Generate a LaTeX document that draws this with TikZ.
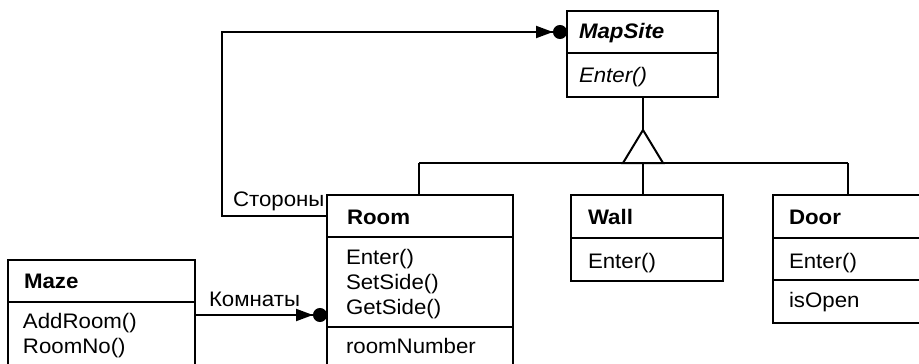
\documentclass[tikz,border=0pt]{standalone}
\usepackage{fontspec}
\setmainfont{Liberation Sans}[FakeStretch=1.06]
\usetikzlibrary{arrows.meta}
\begin{document}
\begin{tikzpicture}[x=1pt,y=-1pt,line width=2pt,line join=miter,
  box/.style={draw,line width=2pt,anchor=north west,inner sep=0pt,outer sep=0pt},
  txt/.style={anchor=base west,inner sep=0pt,font=\fontsize{21}{25}\selectfont},
  assoc/.style={line width=2pt,-{Triangle[length=17pt,width=12pt] Circle[length=14pt]}},
  conn/.style={line width=2pt}]
\clip (0,0) rectangle (919,364);
\useasboundingbox (0,0) rectangle (919,364);

% MapSite
\node[box,minimum width=151pt,minimum height=86pt] (mapsite) at (567,11) {};
\draw (567,53) -- (718,53);
\node[txt] (mapsiteT) at (578,38) {\bfseries\itshape MapSite};
\node[txt] (mapsiteE) at (578,82) {\itshape Enter()};

% Room
\node[box,minimum width=186pt,minimum height=190pt] (room) at (327,195) {};
\draw (327,237) -- (513,237);
\draw (327,327) -- (513,327);
\node[txt] (roomT) at (346,224) {\bfseries Room};
\node[txt] (roomE) at (345,264) {Enter()};
\node[txt] (roomS) at (345,289) {SetSide()};
\node[txt] (roomG) at (345,314) {GetSide()};
\node[txt] (roomN) at (345,353) {roomNumber};

% Wall
\node[box,minimum width=152pt,minimum height=86pt] (wall) at (571,195) {};
\draw (571,238) -- (723,238);
\node[txt] (wallT) at (587,224) {\bfseries Wall};
\node[txt] (wallE) at (587,268) {Enter()};

% Door
\node[box,minimum width=160pt,minimum height=128pt] (door) at (773,195) {};
\draw (773,238) -- (933,238);
\draw (773,280) -- (933,280);
\node[txt] (doorT) at (788,224) {\bfseries Door};
\node[txt] (doorE) at (788,268) {Enter()};
\node[txt] (doorO) at (788,307) {isOpen};

% Maze
\node[box,minimum width=187pt,minimum height=130pt] (maze) at (8,260) {};
\draw (8,302) -- (195,302);
\node[txt] (mazeT) at (23,288) {\bfseries Maze};
\node[txt] (mazeA) at (22,328) {AddRoom()};
\node[txt] (mazeR) at (22,353) {RoomNo()};

% Inheritance
\coordinate (apex) at (643,130);
\coordinate (bl) at (623,163);
\coordinate (br) at (663,163);
\draw[conn] (mapsite.south -| apex) -- (apex);
\draw[conn] (apex) -- (bl) -- (br) -- cycle;
\coordinate (hl) at (419,163);
\coordinate (hr) at (848,163);
\draw[conn] (hl) -- (hr);
\draw[conn] (hl) -- (room.north -| hl);
\draw[conn] (bl -| apex) -- (wall.north -| apex);
\draw[conn] (hr) -- (door.north -| hr);

% Associations
\coordinate (s1) at (222,216);
\coordinate (s2) at (222,32);
\draw[assoc] (room.west |- s1) -- (s1) -- (s2) -- (mapsite.west |- s2);
\node[txt] (sideL) at (232,206) {Стороны};
\coordinate (k1) at (195,315);
\draw[assoc] (k1) -- (room.west |- k1);
\node[txt] (roomsL) at (208,306) {Комнаты};
\end{tikzpicture}
\end{document}
